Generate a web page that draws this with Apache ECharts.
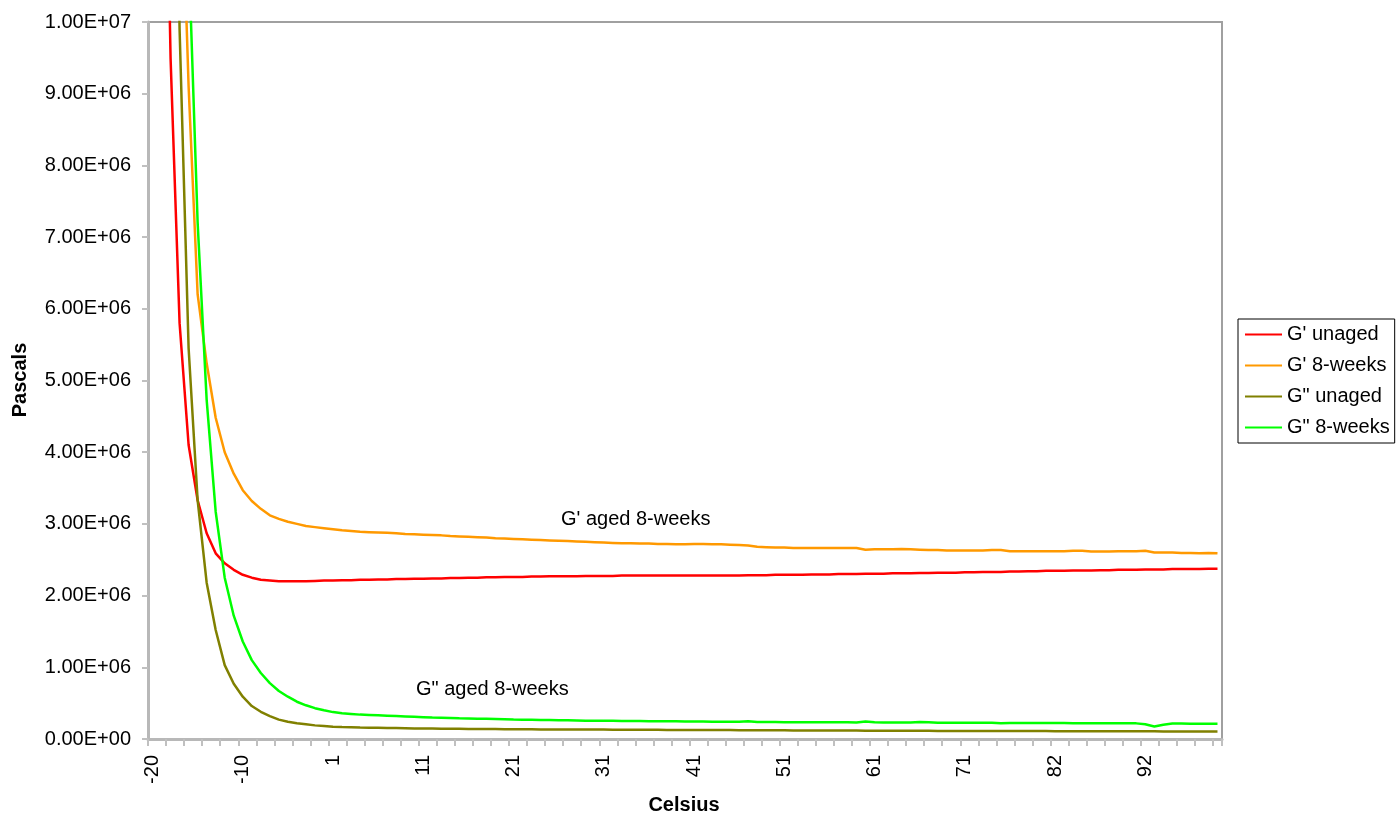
<!DOCTYPE html>
<html>
<head>
<meta charset="utf-8">
<title>G' and G" vs temperature</title>
<script src="https://cdn.jsdelivr.net/npm/echarts@6/dist/echarts.min.js"></script>
<style>
  html, body { margin: 0; padding: 0; background: #ffffff; }
  #chart { width: 1400px; height: 818px; }
</style>
</head>
<body>
<div id="chart"></div>
<script>
// Temperature categories (°C), one per measurement step
const temperatures = [
  -20, -19, -18, -17, -16, -15, -14, -13, -12, -11,
  -10, -9, -8, -7, -6, -5, -3, -2, -1, 0,
  1, 2, 3, 4, 5, 6, 7, 8, 9, 10,
  11, 12, 13, 14, 15, 16, 17, 18, 19, 20,
  21, 22, 23, 24, 25, 26, 27, 28, 29, 30,
  31, 32, 33, 34, 35, 36, 37, 38, 39, 40,
  41, 42, 43, 44, 45, 46, 47, 48, 49, 50,
  51, 52, 53, 54, 55, 56, 57, 58, 59, 60,
  61, 62, 63, 64, 65, 66, 67, 68, 69, 70,
  71, 72, 73, 74, 75, 76, 77, 78, 79, 81,
  82, 83, 84, 85, 86, 87, 88, 89, 90, 91,
  92, 93, 94, 95, 96, 97, 98, 99, 100
];

// Moduli in MPa (converted to Pascals below)
const gPrimeUnaged = [
  25, 16, 9.5, 5.8, 4.10, 3.33, 2.87, 2.59, 2.45, 2.36,
  2.29, 2.25, 2.22, 2.21, 2.20, 2.20, 2.20, 2.20, 2.205, 2.21,
  2.21, 2.215, 2.215, 2.22, 2.22, 2.225, 2.225, 2.23, 2.23, 2.235,
  2.235, 2.24, 2.24, 2.245, 2.245, 2.25, 2.25, 2.255, 2.255, 2.26,
  2.26, 2.26, 2.265, 2.265, 2.27, 2.27, 2.27, 2.27, 2.275, 2.275,
  2.275, 2.275, 2.28, 2.28, 2.28, 2.28, 2.28, 2.28, 2.28, 2.28,
  2.28, 2.28, 2.28, 2.28, 2.28, 2.28, 2.285, 2.285, 2.285, 2.29,
  2.29, 2.29, 2.29, 2.295, 2.295, 2.295, 2.30, 2.30, 2.30, 2.305,
  2.305, 2.305, 2.31, 2.31, 2.31, 2.315, 2.315, 2.32, 2.32, 2.32,
  2.325, 2.325, 2.33, 2.33, 2.33, 2.335, 2.335, 2.34, 2.34, 2.345,
  2.345, 2.345, 2.35, 2.35, 2.35, 2.355, 2.355, 2.36, 2.36, 2.36,
  2.365, 2.365, 2.365, 2.37, 2.37, 2.37, 2.37, 2.375, 2.375
];

const gPrime8Weeks = [
  40, 28, 19, 13, 9.1, 6.2, 5.24, 4.48, 4.0, 3.70,
  3.47, 3.32, 3.21, 3.12, 3.07, 3.03, 3.00, 2.97, 2.955, 2.94,
  2.925, 2.91, 2.90, 2.89, 2.885, 2.88, 2.875, 2.87, 2.86, 2.855,
  2.85, 2.845, 2.84, 2.83, 2.825, 2.82, 2.815, 2.81, 2.80, 2.795,
  2.79, 2.785, 2.78, 2.775, 2.77, 2.765, 2.76, 2.755, 2.75, 2.745,
  2.74, 2.735, 2.73, 2.73, 2.725, 2.725, 2.72, 2.72, 2.715, 2.715,
  2.72, 2.72, 2.715, 2.715, 2.71, 2.705, 2.70, 2.68, 2.675, 2.67,
  2.67, 2.665, 2.665, 2.665, 2.665, 2.665, 2.665, 2.665, 2.665, 2.64,
  2.645, 2.645, 2.645, 2.65, 2.645, 2.64, 2.635, 2.635, 2.63, 2.63,
  2.63, 2.63, 2.63, 2.635, 2.635, 2.62, 2.62, 2.62, 2.62, 2.62,
  2.62, 2.62, 2.625, 2.625, 2.615, 2.615, 2.615, 2.62, 2.62, 2.62,
  2.625, 2.60, 2.60, 2.60, 2.595, 2.595, 2.59, 2.595, 2.59
];

const gDoublePrimeUnaged = [
  60, 35, 17, 9.9, 5.45, 3.33, 2.18, 1.52, 1.03, 0.77,
  0.59, 0.46, 0.38, 0.32, 0.27, 0.24, 0.22, 0.205, 0.19, 0.18,
  0.17, 0.166, 0.163, 0.16, 0.158, 0.156, 0.154, 0.152, 0.15, 0.148,
  0.146, 0.145, 0.144, 0.143, 0.142, 0.141, 0.14, 0.139, 0.138, 0.137,
  0.136, 0.135, 0.135, 0.134, 0.134, 0.133, 0.133, 0.132, 0.132, 0.131,
  0.131, 0.130, 0.130, 0.129, 0.129, 0.128, 0.128, 0.127, 0.127, 0.126,
  0.126, 0.125, 0.125, 0.124, 0.124, 0.123, 0.123, 0.122, 0.122, 0.121,
  0.121, 0.120, 0.120, 0.119, 0.119, 0.118, 0.118, 0.117, 0.117, 0.116,
  0.116, 0.115, 0.115, 0.115, 0.114, 0.114, 0.114, 0.113, 0.113, 0.113,
  0.112, 0.112, 0.112, 0.111, 0.111, 0.111, 0.110, 0.110, 0.110, 0.110,
  0.109, 0.109, 0.109, 0.109, 0.108, 0.108, 0.108, 0.108, 0.107, 0.107,
  0.107, 0.107, 0.106, 0.106, 0.106, 0.106, 0.105, 0.105, 0.105
];

const gDoublePrime8Weeks = [
  80, 50, 30, 18, 11, 7.2, 4.73, 3.17, 2.25, 1.72,
  1.36, 1.10, 0.92, 0.78, 0.67, 0.59, 0.52, 0.47, 0.43, 0.40,
  0.375, 0.36, 0.35, 0.34, 0.335, 0.33, 0.325, 0.32, 0.315, 0.31,
  0.305, 0.30, 0.297, 0.294, 0.29, 0.287, 0.284, 0.281, 0.278, 0.275,
  0.272, 0.27, 0.268, 0.266, 0.264, 0.262, 0.26, 0.258, 0.256, 0.255,
  0.254, 0.253, 0.252, 0.251, 0.25, 0.249, 0.248, 0.247, 0.246, 0.245,
  0.244, 0.243, 0.242, 0.241, 0.24, 0.239, 0.248, 0.238, 0.237, 0.236,
  0.235, 0.235, 0.234, 0.234, 0.233, 0.233, 0.232, 0.232, 0.231, 0.245,
  0.232, 0.231, 0.23, 0.23, 0.229, 0.236, 0.232, 0.228, 0.228, 0.227,
  0.227, 0.226, 0.226, 0.225, 0.22, 0.224, 0.224, 0.223, 0.223, 0.222,
  0.222, 0.222, 0.221, 0.221, 0.22, 0.22, 0.22, 0.219, 0.219, 0.218,
  0.205, 0.175, 0.2, 0.215, 0.215, 0.214, 0.214, 0.213, 0.213
];

const seriesNames = ["G' unaged", "G' 8-weeks", 'G" unaged', 'G" 8-weeks'];
const seriesColors = ['#ff0000', '#ff9900', '#808000', '#00ff00'];
const seriesValues = [gPrimeUnaged, gPrime8Weeks, gDoublePrimeUnaged, gDoublePrime8Weeks];

const FONT = '"Liberation Sans", Arial, Helvetica, sans-serif';

// Scientific notation like 1.00E+07
function sci(v) {
  if (v === 0) return '0.00E+00';
  const e = Math.floor(Math.log10(Math.abs(v)) + 1e-9);
  const m = v / Math.pow(10, e);
  const sign = e < 0 ? '-' : '+';
  const ea = Math.abs(e);
  return m.toFixed(2) + 'E' + sign + (ea < 10 ? '0' + ea : String(ea));
}

const chart = echarts.init(document.getElementById('chart'), null, { renderer: 'canvas' });

chart.setOption({
  backgroundColor: '#ffffff',
  animation: false,
  textStyle: { fontFamily: FONT },
  grid: {
    left: 148, right: 178, top: 22, bottom: 79,
    show: true,
    borderColor: '#a0a0a0',
    borderWidth: 2,
    backgroundColor: 'transparent'
  },
  legend: {
    orient: 'vertical',
    left: 1238,
    top: 319,
    padding: [4, 5, 4, 7],
    icon: 'rect',
    itemWidth: 37,
    itemHeight: 2,
    itemGap: 8,
    borderColor: '#000000',
    borderWidth: 1,
    backgroundColor: '#ffffff',
    textStyle: { fontFamily: FONT, fontSize: 20, color: '#000000', lineHeight: 23 },
    data: seriesNames
  },
  xAxis: {
    type: 'category',
    data: temperatures.map(String),
    boundaryGap: true,
    axisLine: { show: true, lineStyle: { color: '#b8b8b8', width: 3 } },
    axisTick: { show: true, interval: 1, length: 7, lineStyle: { color: '#c0c0c0', width: 2 } },
    axisLabel: {
      interval: 9,
      rotate: 90,
      margin: 16,
      fontFamily: FONT,
      fontSize: 20,
      color: '#000000'
    },
    splitLine: { show: false }
  },
  yAxis: {
    type: 'value',
    min: 0,
    max: 10000000,
    interval: 1000000,
    axisLine: { show: true, lineStyle: { color: '#b8b8b8', width: 3 } },
    axisTick: { show: true, length: 6, lineStyle: { color: '#c0c0c0', width: 2 } },
    axisLabel: {
      margin: 17,
      fontFamily: FONT,
      fontSize: 20,
      color: '#000000',
      formatter: sci
    },
    splitLine: { show: false }
  },
  graphic: [
    {
      type: 'text', x: 20, y: 380, rotation: Math.PI / 2,
      style: { text: 'Pascals', fontFamily: FONT, fontSize: 20, fontWeight: 'bold', fill: '#000000',
               align: 'center', verticalAlign: 'middle' }
    },
    {
      type: 'text', x: 684, y: 805,
      style: { text: 'Celsius', fontFamily: FONT, fontSize: 20, fontWeight: 'bold', fill: '#000000',
               align: 'center', verticalAlign: 'middle' }
    },
    {
      type: 'text', x: 561, y: 519,
      style: { text: "G' aged 8-weeks", fontFamily: FONT, fontSize: 20, fill: '#000000',
               align: 'left', verticalAlign: 'middle' }
    },
    {
      type: 'text', x: 416, y: 689,
      style: { text: 'G" aged 8-weeks', fontFamily: FONT, fontSize: 20, fill: '#000000',
               align: 'left', verticalAlign: 'middle' }
    }
  ],
  series: seriesValues.map((vals, k) => ({
    name: seriesNames[k],
    type: 'line',
    data: vals.map(v => v * 1e6),
    symbol: 'none',
    smooth: false,
    clip: true,
    color: seriesColors[k],
    lineStyle: { color: seriesColors[k], width: 2.5 },
    emphasis: { disabled: true }
  }))
});
</script>
</body>
</html>
